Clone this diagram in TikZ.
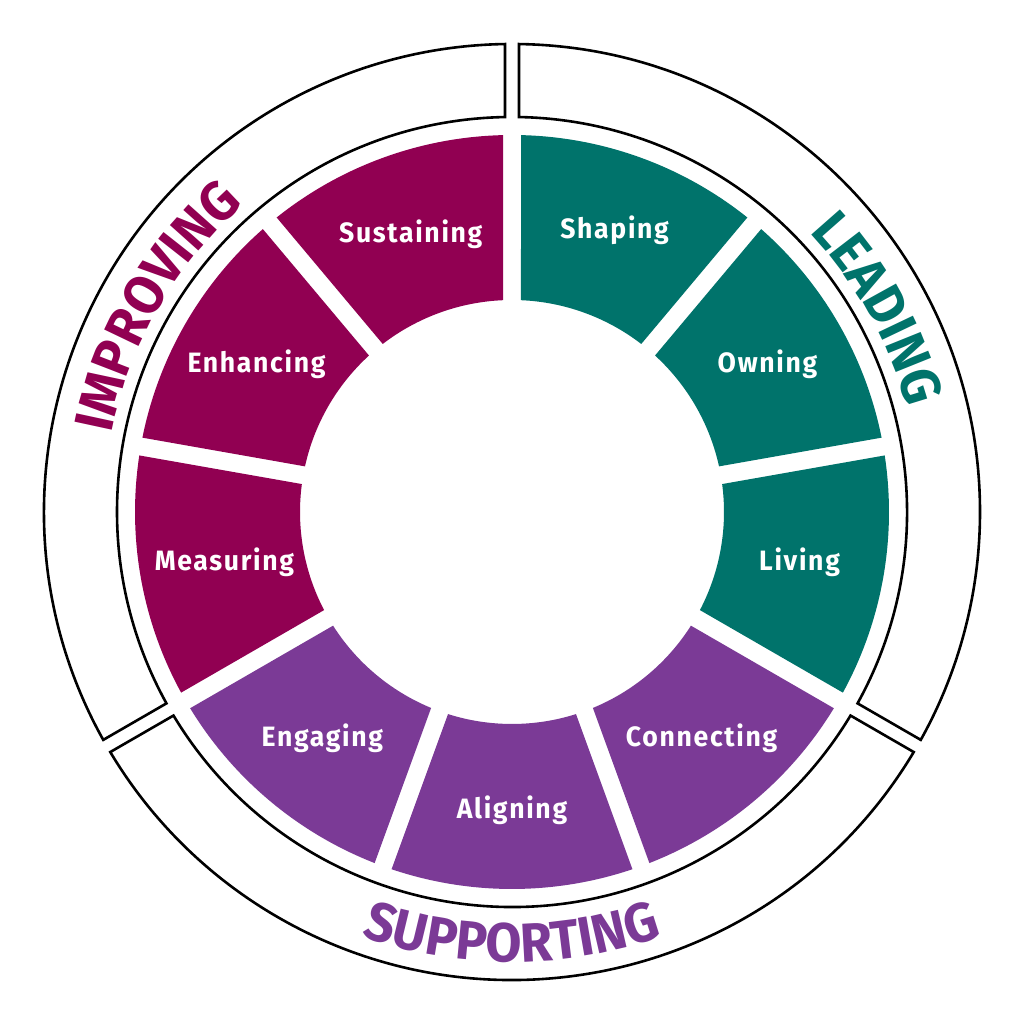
\documentclass[tikz,border=0pt]{standalone}
\usepackage{fontspec}
\usetikzlibrary{decorations.text}
\newfontfamily\labfont[FakeStretch=0.95,LetterSpace=6]{Fira Sans}
\newfontfamily\ringfont[FakeStretch=0.95]{Fira Sans}
\definecolor{cimp}{HTML}{910052}
\definecolor{clead}{HTML}{00736B}
\definecolor{csup}{HTML}{7B3A96}
\newcommand{\seg}[3]{% color, start angle a, end angle b (a>b)
  \fill[#1] ({#2-1.37}:377) arc[start angle={#2-1.37}, end angle={#3+1.37}, radius=377]
    -- ({#3+2.43}:212) arc[start angle={#3+2.43}, end angle={#2-2.43}, radius=212] -- cycle;}
\newcommand{\ringarc}[2]{%
  \draw[ring] ({#1-0.86}:468) arc[start angle={#1-0.86}, end angle={#2+0.86}, radius=468]
    -- ({#2+1.02}:395) arc[start angle={#2+1.02}, end angle={#1-1.02}, radius=395] -- cycle;}
\tikzset{ring/.style={draw=black, line width=2.6pt, fill=white},
  lab/.style={text=white, font=\labfont\bfseries\fontsize{28}{30}\selectfont}}
\begin{document}
\begin{tikzpicture}[x=1pt,y=1pt]
\useasboundingbox (0,0) rectangle (1024,1024);
\begin{scope}[shift={(512,512)}]
\ringarc{90}{-30}
\ringarc{-30}{-150}
\ringarc{210}{90}
\seg{clead}{90}{50}
\seg{clead}{50}{10}
\seg{clead}{10}{-30}
\seg{csup}{-30}{-70}
\seg{csup}{-70}{-110}
\seg{csup}{-110}{-150}
\seg{cimp}{-150}{-190}
\seg{cimp}{170}{130}
\seg{cimp}{130}{90}
\node[lab] (shaping) at (70:300) {Shaping};
\node[lab] (owning) at (30:295) {Owning};
\node[lab] (living) at (-10:292) {Living};
\node[lab] (connecting) at (-50:295) {Connecting};
\node[lab] (aligning) at (-90:298) {Aligning};
\node[lab] (engaging) at (-130:295) {Engaging};
\node[lab] (measuring) at (190:292) {Measuring};
\node[lab] (enhancing) at (150:295) {Enhancing};
\node[lab] (sustaining) at (110:296) {Sustaining};
\path[decorate, decoration={text along path, text align=center,
  text={|\color{clead}\ringfont\bfseries\fontsize{55}{55}\selectfont|LEADING}}]
  (89:408) arc[start angle=89, end angle=-31, radius=408];
\path[decorate, decoration={text along path, text align=center,
  text={|\color{cimp}\ringfont\bfseries\fontsize{55}{55}\selectfont|IMPROVING}}]
  (210:408) arc[start angle=210, end angle=90, radius=408];
\path[decorate, decoration={text along path, text align=center,
  text={|\color{csup}\ringfont\bfseries\fontsize{55}{55}\selectfont|SUPPORTING}}]
  (210:450) arc[start angle=210, end angle=330, radius=450];
\end{scope}
\end{tikzpicture}
\end{document}
